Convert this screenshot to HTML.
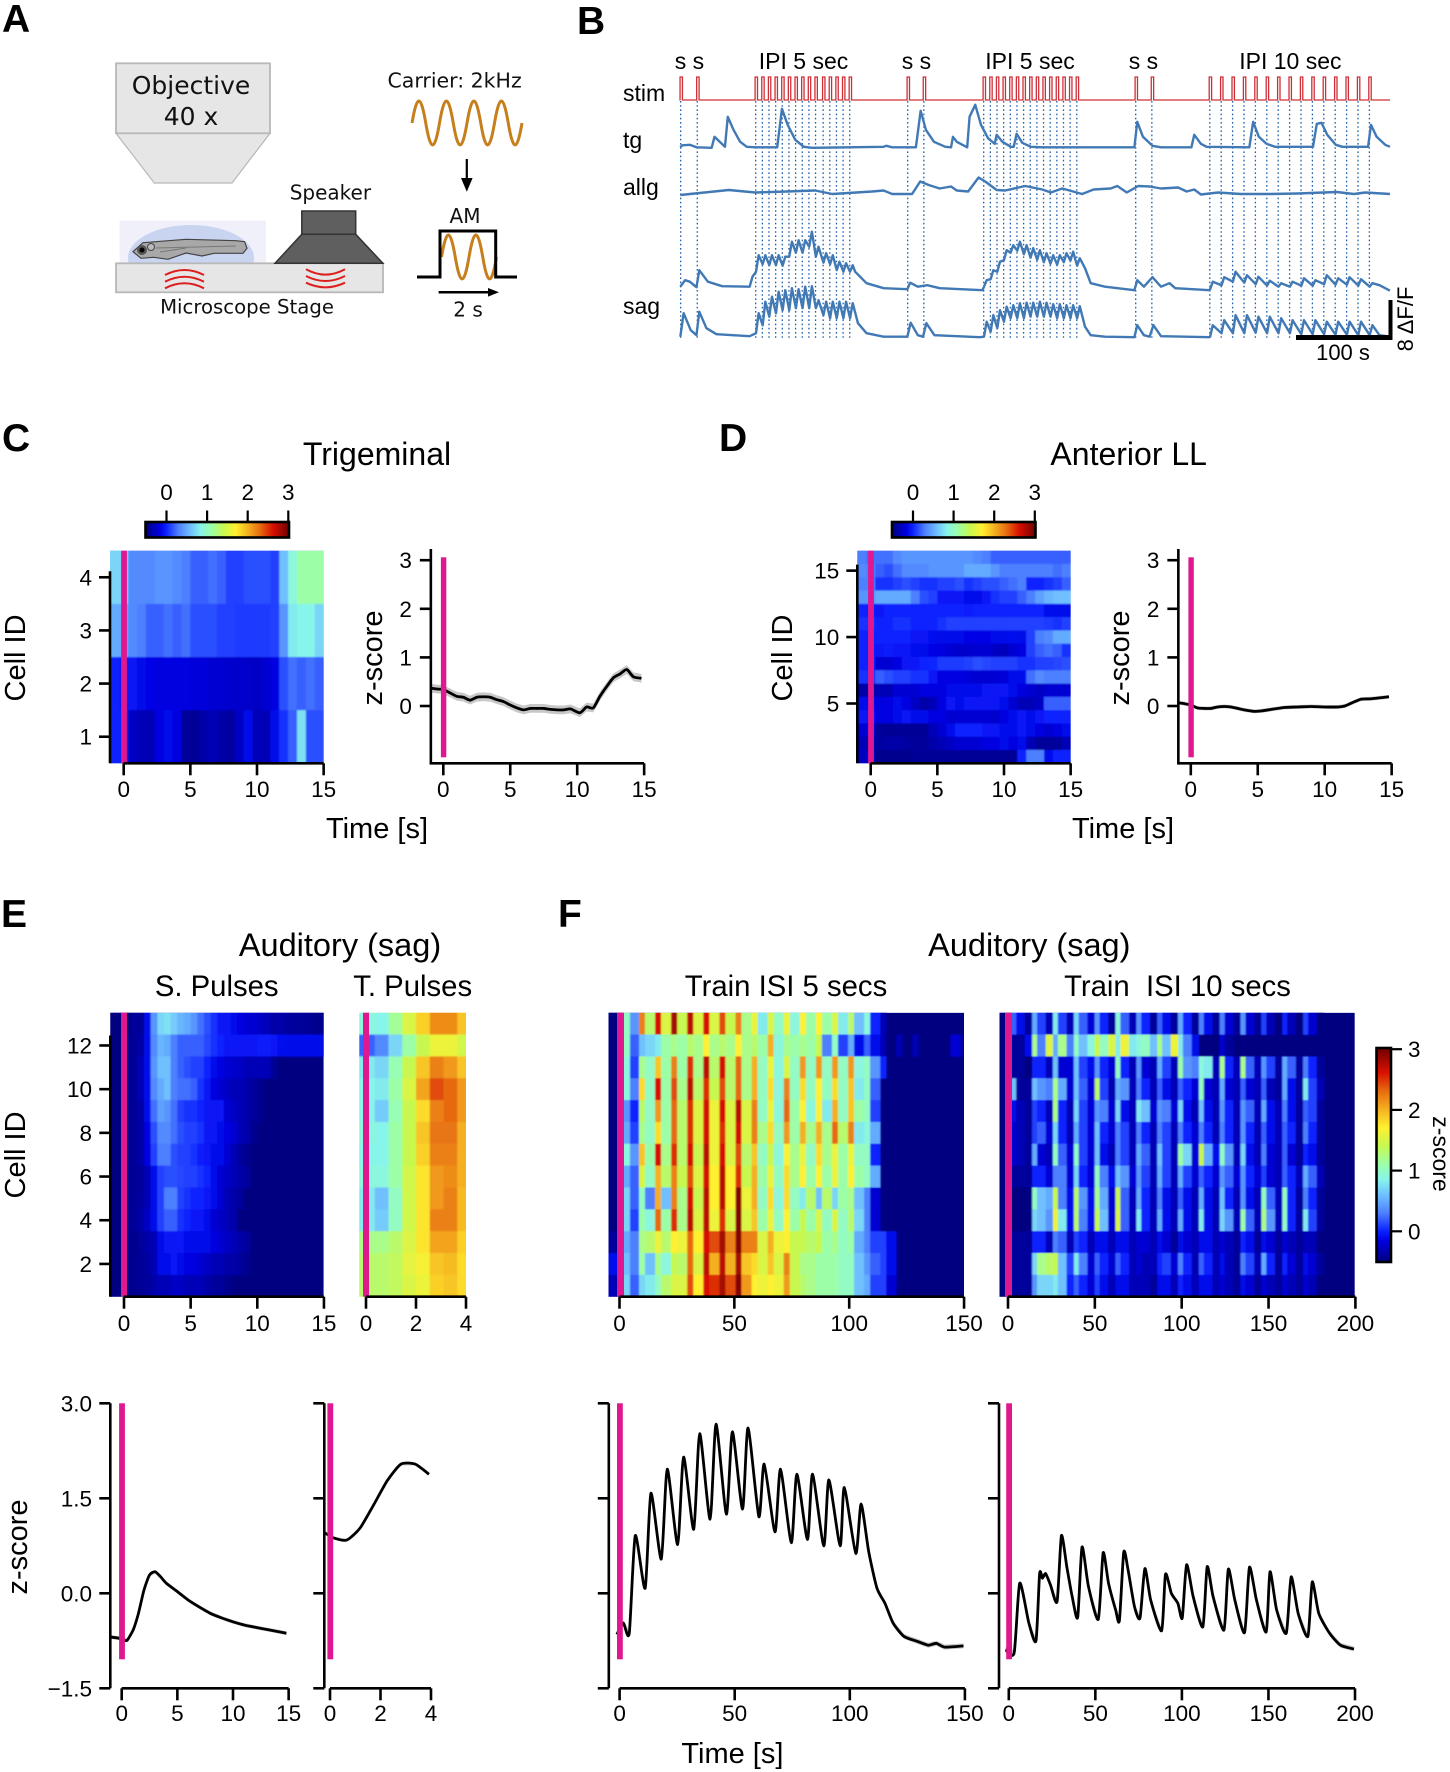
<!DOCTYPE html>
<html lang="en">
<head>
<meta charset="utf-8">
<title>Auditory and trigeminal responses figure</title>
<style>
html,body{margin:0;padding:0;background:#fff}
svg{display:block}
text{font-family:"Liberation Sans",Arial,sans-serif;fill:#000}
.dj{font-family:"DejaVu Sans",sans-serif;fill:#111}
.letter{font-size:39px;font-weight:bold}
.title{font-size:32px;text-anchor:middle}
.sub{font-size:29.3px;text-anchor:middle}
.lab{font-size:29px;text-anchor:middle}
.blab{font-size:23px}
</style>
</head>
<body>
<svg xmlns="http://www.w3.org/2000/svg" width="1450" height="1772" viewBox="0 0 1450 1772">
<defs>
<filter id="blurSoft" x="-5%" y="-5%" width="110%" height="110%"><feGaussianBlur stdDeviation="0.7"/></filter>
<filter id="blurX" x="-5%" y="-5%" width="110%" height="110%"><feGaussianBlur stdDeviation="0.9 0.5"/></filter>
<linearGradient id="cbH" x1="0" x2="1" y1="0" y2="0"></linearGradient>
<linearGradient id="cbV" x1="0" x2="0" y1="1" y2="0"></linearGradient>
<clipPath id="waterClip"><rect x="119" y="220" width="148" height="43"/></clipPath>
</defs>

<text class="letter" x="2" y="32">A</text>
<text class="letter" x="577" y="34">B</text>
<text class="letter" x="2" y="451">C</text>
<text class="letter" x="719" y="451">D</text>
<text class="letter" x="1" y="927">E</text>
<text class="letter" x="558" y="927">F</text>

<g>
  <path d="M116 133.3H270L232 183H154.3Z" fill="#e6e6e6" stroke="#b8b8b8" stroke-width="1.2"/>
  <rect x="116" y="63.3" width="154" height="70" fill="#e6e6e6" stroke="#b8b8b8" stroke-width="1.8"/>
  <text class="dj" x="191" y="94" font-size="25" text-anchor="middle">Objective</text>
  <text class="dj" x="191" y="125" font-size="25" text-anchor="middle">40 x</text>
  <rect x="119.6" y="220.7" width="146.4" height="43" fill="#f0f0fb"/>
  <ellipse cx="191" cy="258" rx="63" ry="33" fill="#c9d5f0" clip-path="url(#waterClip)"/>
  <path d="M133 251.7L143 242.7L186 239.3L236 240.7L244.6 241.7L247 248.3L243 253.3L214 253.3L202 256L186 253L168 259.3L153.6 257.3L141 258.3Z" fill="#a8a8a8" stroke="#444" stroke-width="1.2"/>
  <path d="M156 248L236 246M160 252L186 248" fill="none" stroke="#777" stroke-width="1"/>
  <circle cx="151" cy="247" r="3.5" fill="#bbb" stroke="#444"/>
  <circle cx="142" cy="250" r="5" fill="#555"/>
  <circle cx="142" cy="250" r="2.5" fill="#000"/>
  <rect x="116" y="263.3" width="267" height="29" fill="#e6e6e6" stroke="#b8b8b8" stroke-width="1.8"/>
  <text class="dj" x="247" y="313.5" font-size="19.7" text-anchor="middle">Microscope Stage</text>
  <rect x="301.8" y="211" width="53.9" height="23.3" fill="#5f5f5f" stroke="#333" stroke-width="1.5"/>
  <path d="M301.8 234.3H355.7L382.9 263.3H275Z" fill="#5f5f5f" stroke="#333" stroke-width="1.5"/>
  <text class="dj" x="330.4" y="199.5" font-size="20" text-anchor="middle">Speaker</text>
  <path d="M165 275Q184.5 265 204 275M165 281.7Q184.5 271.7 204 281.7M165 288.3Q184.5 278.3 204 288.3" fill="none" stroke="#dc1e1e" stroke-width="2"/>
  <path d="M306 269.3Q325.5 280 345 269.3M306 276Q325.5 286 345 276M306 282.7Q325.5 292 345 282.7" fill="none" stroke="#dc1e1e" stroke-width="2"/>
  <text class="dj" x="454.6" y="87.5" font-size="20.5" text-anchor="middle">Carrier: 2kHz</text>
  <path d="M412 123c5 -29.3 8.75 -29.3 13.75 0c5 29.3 8.75 29.3 13.75 0c5 -29.3 8.75 -29.3 13.75 0c5 29.3 8.75 29.3 13.75 0c5 -29.3 8.75 -29.3 13.75 0c5 29.3 8.75 29.3 13.75 0c5 -29.3 8.75 -29.3 13.75 0c5 29.3 8.75 29.3 13.75 0" fill="none" stroke="#c67f1c" stroke-width="3"/>
  <path d="M466.8 159V180" stroke="#000" stroke-width="2.2"/>
  <path d="M461 178H472.6L466.8 191.7Z" fill="#000"/>
  <text class="dj" x="465" y="223" font-size="20" text-anchor="middle">AM</text>
  <path d="M441.5 257c5 -29.3 8.75 -29.3 13.75 0c5 29.3 8.75 29.3 13.75 0c5 -29.3 8.75 -29.3 13.75 0c5 29.3 8.75 29.3 13.75 0" fill="none" stroke="#c67f1c" stroke-width="3"/>
  <path d="M417 277H440V231H495.7V277H517" fill="none" stroke="#000" stroke-width="3"/>
  <path d="M438.6 292.3H490" stroke="#000" stroke-width="2.5"/>
  <path d="M488 288L499 292.3L488 296.6Z" fill="#000"/>
  <text class="dj" x="468" y="316.5" font-size="20" text-anchor="middle">2 s</text>
</g>

<g>
  <g id="bDots"></g>
  <g id="bTraces"></g>
  <text x="689.4" y="69" font-size="23" text-anchor="middle">s s</text>
  <text x="803.5" y="69" font-size="23" text-anchor="middle">IPI 5 sec</text>
  <text x="916.4" y="69" font-size="23" text-anchor="middle">s s</text>
  <text x="1030" y="69" font-size="23" text-anchor="middle">IPI 5 sec</text>
  <text x="1143.4" y="69" font-size="23" text-anchor="middle">s s</text>
  <text x="1290.4" y="69" font-size="23" text-anchor="middle">IPI 10 sec</text>
  <text class="blab" x="623" y="101">stim</text>
  <text class="blab" x="623" y="148">tg</text>
  <text class="blab" x="623" y="195">allg</text>
  <text class="blab" x="623" y="314">sag</text>
  <rect x="1296" y="335" width="96" height="5" fill="#000"/>
  <rect x="1388.5" y="300" width="4" height="40" fill="#000"/>
  <text x="1343" y="360" font-size="22" text-anchor="middle">100 s</text>
  <text transform="rotate(-90 1413 319)" x="1413" y="319" font-size="22" text-anchor="middle">8 ΔF/F</text>
</g>

<text class="title" x="377" y="465">Trigeminal</text>
<text class="title" x="1128.7" y="465">Anterior LL</text>
<g id="cHeat"></g>
<g id="cLine"></g>
<g id="dHeat"></g>
<g id="dLine"></g>
<g id="colorbars"></g>
<text class="lab" transform="rotate(-90 25 658)" x="25" y="658">Cell ID</text>
<text class="lab" transform="rotate(-90 382 658)" x="382" y="658">z-score</text>
<text class="lab" x="377" y="838">Time [s]</text>
<text class="lab" transform="rotate(-90 792 658)" x="792" y="658">Cell ID</text>
<text class="lab" transform="rotate(-90 1129 658)" x="1129" y="658">z-score</text>
<text class="lab" x="1123" y="838">Time [s]</text>

<text class="title" x="340" y="956" style="font-size:32.5px">Auditory (sag)</text>
<text class="title" x="1029.3" y="956" style="font-size:32.5px">Auditory (sag)</text>
<text class="sub" x="216.7" y="996">S. Pulses</text>
<text class="sub" x="412.7" y="996">T. Pulses</text>
<text class="sub" x="786" y="996">Train ISI 5 secs</text>
<text class="sub" x="1177.5" y="996" xml:space="preserve">Train  ISI 10 secs</text>
<text class="lab" transform="rotate(-90 25 1155)" x="25" y="1155">Cell ID</text>
<text class="lab" transform="rotate(-90 27 1547)" x="27" y="1547">z-score</text>
<text class="lab" x="732.4" y="1763">Time [s]</text>
<g id="eHeat"></g>
<g id="tHeat"></g>
<g id="f5Heat"></g>
<g id="f10Heat"></g>
<g id="eLine"></g>
<g id="tLine"></g>
<g id="f5Line"></g>
<g id="f10Line"></g>
</svg>

<script>
// ---------- colour scale ----------
const colorStopValues=[-0.5,-0.15,0,0.3,0.6,0.85,1.1,1.4,1.7,2,2.3,2.6,3];
const colorStopHex=['#000080','#0000e0','#0a20ff','#4d80ff','#70c0ff','#88f5ea','#9cffa8','#c8f850','#fff030','#f5b020','#e66a10','#d81000','#700000'];

// ---------- panel B data ----------
const stimPulses=[1,18.5,80,87,94,101,108,115,122,129,136,143,151,158,165,172,179,240,257,320,327,334,341,348,355,362,369,376,383,390,397,404,411,418,480,497,558,570,582,594,606,618,630,642,654,666,678,690,702,714,726];
const train1Pulses=[80,87,94,101,108,115,122,129,136,143,151,158,165,172,179];
const train2Pulses=[320,327,334,341,348,355,362,369,376,383,390,397,404,411,418];
const train3Pulses=[558,570,582,594,606,618,630,642,654,666,678,690,702,714,726];
const tgTimes=[0,2,10,17,33,36,47,50,56,63,70,79,102,107,113,121,130,139,214,217,223,248,253,258.5,267,279,285,287,291,302,304.5,310.5,316.5,324,331,333,339,348,351,354,360,369,381,478,481,487,497,506,538,541,548,554,599,603,609,617,626,666,670,675,681,690,697,724,727,733,742,747];
const tgValues=[0,.4,.5,0,-.1,2.1,.1,6.1,3.5,1.1,.1,0,0,7.7,4.5,1.5,.1,-.1,.1,.3,0,0,7.3,3.5,1.1,.1,0,2.1,1.1,0,6.1,8.5,4.5,1.8,.7,2.5,1.1,.1,.1,2.7,.9,.1,0,0,5.1,2.1,.3,0,0,2.5,.7,.1,0,5.1,2.1,.7,.1,.1,4.7,4.9,2.5,.5,.1,.1,4.5,2.1,.5,.1];
const allgTimes=[0,51,79,112,142,160,202,214,223,244,252.5,261.5,273,285,291,303,314,321,333,342,363,381,390,402,423,435,453,460,470,482,494,506,524,533,541,548,566,590,620,650,691,709,721,747];
const allgValues=[0,1,.5,.7,.9,.2,.7,.9,.2,.2,2.7,2,1.3,1.7,.9,.7,3.5,2.7,1,.9,1.8,1.1,.5,1.3,.2,1.1,1.3,1.8,.5,1.8,1.7,1.3,1.5,.7,1.1,.1,.5,.2,.2,.3,.6,.2,.5,.2];
const sag1Times=[0,5,10,17,20,29,44,73,76,184,196,214,239,242,250,260,273,318,426,432,447,478,481,488,497,506,515,521,557,736,747];
const sag1Values=[0,1.3,1,-.1,3.3,1,.1,0,2,3,.7,-.3,-.5,.8,0,.3,-.3,-.7,3.7,.7,0,-.7,1.3,0,1.9,0,.7,-.3,-.7,.3,-.8];
const sag1Peaks=[6.3,6.3,6.3,6.3,6,9,9.3,9.3,11,8,6.7,6.3,5,4.7,4.3,1.3,3.3,5,7.3,8.3,9,8.3,7.7,7.3,6.7,6.3,6.3,6.7,7,5.7,1,1.9,3,2.3,2,1.2,.7,1,1.7,1.3,2.3,1.7,1.9,1.5,.7];
const sag1Troughs=[3,4.5,4.3,4.3,4.2,6,6.8,6.8,8,6,4.8,4.5,3.3,3,3,0,1.5,3,5.3,6.8,7.2,6.5,5.8,5.4,4.9,4.6,4.4,4.9,5.2,4.2,-.5,.3,1,.8,.5,.2,0,0,.2,.2,.5,.4,.4,.2,0];
const sag2Times=[0,.5,3.5,11,17,20,27.5,38,73,187,196,214,239,242.5,250,255.5,259,267.5,315,426,432,447,478,481,488,494,498,506,557,736,747];
const sag2Values=[0,.6,4.7,1.3,.3,5,1.7,.5,.1,2.7,.7,0,0,2.8,.3,0,2.7,.3,-.1,2,.3,0,-.1,2.3,.3,0,2.3,.1,-.1,.3,0];
const sag2Peaks=[4.7,7,8,9,9.3,9.7,9.5,10,10.1,7.3,7,7,7,7,6.7,3,4.3,5.3,6,6.3,6.7,6.8,6.8,7,6.8,6.5,6.5,6.3,6.3,6.1,2.3,3.3,4.3,4.3,4,4,3.7,3.3,3.3,3.3,3,3,3,3,2.3];
const sag2Troughs=[.7,2.3,4,4.7,5.3,5.3,5.7,5.7,5.7,5.7,4.3,3.7,3.7,3.7,3.7,0,1,1.7,3,3.7,3.7,3.7,4,4,4,4,3.7,3.7,3.7,3.7,0,.7,.7,.7,.8,.7,.7,.7,.5,.5,.5,.4,.4,.3,.3];

// ---------- panel C / D data ----------
const cHeatRows=[
[.7,.7,.35,.35,.35,.4,.4,.35,.3,.2,.2,.25,.2,.1,.1,.15,.15,.15,.1,.6,.9,1.1,1.1,1.1],
[.5,.5,.35,.3,.2,.2,.25,.2,.25,.15,.15,.15,.1,.1,.08,.08,.08,.08,.1,.4,.8,.85,.85,.7],
[0,-.05,-.05,-.1,-.12,-.15,-.15,-.15,-.15,-.17,-.17,-.2,-.2,-.22,-.22,-.23,-.25,-.2,-.15,.15,.25,.2,.25,.2],
[0,0,-.25,-.3,-.3,-.15,-.1,-.15,-.4,-.42,-.35,-.3,-.35,-.38,-.25,-.1,-.3,-.3,-.1,.05,.2,.75,.15,.15]];
const dHeatRows=[
[.3,.25,.25,.25,.35,.4,.4,.4,.4,.4,.4,.4,.4,.35,.3,.2,.2,.2,.2,.2,.2,.2,.2,.2],
[.35,.3,.2,.15,.25,.35,.35,.35,.4,.4,.4,.4,.5,.5,.5,.4,.3,.3,.3,.3,.3,.3,.25,.3],
[.3,.3,.05,.05,.1,.15,.1,.05,.05,.1,.1,.15,.05,.1,.15,.15,.2,.25,.3,0,0,.05,.1,.2],
[.4,.4,.5,.5,.5,.5,.3,.15,.1,-.05,-.05,-.05,-.1,-.1,-.05,.05,.1,.1,.2,.3,.45,.55,.6,.6],
[0,0,-.05,0,0,0,0,0,0,0,0,0,-.02,0,0,0,0,0,0,0,0,-.1,-.1,-.1],
[.05,.05,0,0,.05,.05,0,0,0,.05,.1,.1,.1,.1,.1,.1,.1,.1,.1,.1,.1,.08,.05,.1],
[0,0,0,0,0,0,-.05,-.05,-.08,-.1,-.1,-.1,-.12,-.12,-.12,-.1,-.1,-.08,-.1,.1,.3,.35,.5,.5],
[0,0,-.05,-.02,-.05,-.05,-.08,-.1,-.12,-.15,-.2,-.22,-.22,-.2,-.2,-.25,-.28,-.2,-.15,.1,.2,.25,.2,.05],
[0,0,-.2,-.2,-.15,-.05,-.05,0,.02,.08,.08,.08,.1,.15,.12,.1,.1,.1,.05,.05,.1,.1,.12,.15],
[.05,.05,.2,.15,.1,.1,.05,.05,-.05,-.15,-.15,-.15,-.18,-.2,-.2,-.2,-.18,-.1,-.1,.25,.35,.3,.3,.3],
[-.35,-.35,-.3,-.3,-.2,-.2,-.2,-.15,-.15,-.15,-.1,-.1,-.1,-.1,-.05,-.05,-.05,-.1,-.15,-.2,-.25,-.2,-.2,-.2],
[-.1,-.1,-.15,-.15,-.1,-.15,-.25,-.35,-.3,-.15,-.05,-.1,-.05,-.05,-.05,-.05,-.1,-.2,-.3,-.3,-.25,.2,.2,.2],
[-.05,-.05,-.15,-.15,-.1,-.05,-.1,-.1,-.15,-.15,-.2,-.2,-.2,-.2,-.2,-.22,-.15,-.1,-.05,-.1,-.05,0,0,0],
[-.2,-.2,-.4,-.42,-.42,-.42,-.42,-.42,-.3,-.2,-.1,0,0,0,-.05,-.05,-.1,-.1,-.05,-.1,-.15,-.2,-.15,-.1],
[-.3,-.3,-.38,-.35,-.35,-.38,-.4,-.4,-.35,-.3,-.25,-.2,-.2,-.2,-.15,-.15,-.1,-.15,-.1,-.3,-.4,-.4,-.4,-.3],
[-.25,-.25,-.45,-.45,-.45,-.45,-.42,-.42,-.42,-.42,-.42,-.42,-.42,-.42,-.42,-.42,-.42,-.42,0,.3,.3,-.1,0,0]];
const cLineTimes=[-1,-.5,0,.5,1,1.5,2,2.5,3,3.5,4,4.5,5,5.5,6,6.5,7,7.5,8,8.5,9,9.5,10.2,10.7,11.2,11.7,12.2,12.7,13.2,13.7,14.2,14.8];
const cLineValues=[.37,.35,.34,.27,.2,.18,.12,.18,.19,.18,.13,.09,.02,-.04,-.08,-.05,-.05,-.05,-.07,-.08,-.08,-.06,-.14,-.02,-.04,.2,.4,.58,.66,.75,.6,.57];
const dLineTimes=[-1,-.5,0,.5,1,1.5,2,2.5,3,3.5,4,4.7,5.3,6,7,8,9,10,11,11.5,12,12.7,13.5,14.8];
const dLineValues=[.07,.05,.02,-.04,-.05,-.05,-.02,-.01,-.02,-.05,-.08,-.11,-.1,-.07,-.03,-.02,-.01,-.02,-.02,0,.06,.14,.15,.19];

// ---------- panel E data ----------
const eHeatRows=[
[-.5,-.5,-.5,-.4,-.4,-.1,.4,.7,.75,.65,.55,.5,.4,.25,.15,.05,-.05,-.05,-.1,-.15,-.2,-.2,-.25,-.3,-.35,-.35,-.38,-.4,-.4,-.42,-.45,-.45],
[-.5,-.5,-.45,-.42,-.35,-.1,.35,.55,.5,.3,.2,.2,.2,.2,.12,.05,0,-.05,-.05,-.05,-.05,-.05,-.03,-.03,-.05,-.08,-.1,-.1,-.1,-.1,-.1,-.1],
[-.5,-.5,-.45,-.42,-.3,-.1,.4,.6,.6,.3,.2,.15,.1,.1,0,-.1,-.15,-.2,-.22,-.25,-.3,-.3,-.3,-.3,-.42,-.5],
[-.5,-.5,-.45,-.42,-.3,-.1,.35,.5,.6,.3,.25,.25,.2,.05,-.05,-.15,-.2,-.25,-.3,-.3,-.35,-.4,-.45],
[-.5,-.5,-.45,-.42,-.35,-.1,.25,.45,.4,.25,.1,.05,.05,0,-.05,-.05,-.05,-.2,-.25,-.3,-.35,-.4,-.45],
[-.5,-.5,-.45,-.42,-.35,-.15,.15,.35,.35,.25,.15,.1,.1,.05,-.05,-.05,-.1,-.15,-.2,-.3,-.35,-.45],
[-.5,-.5,-.45,-.42,-.35,-.15,.1,.3,.3,.15,.1,.1,.05,-.02,-.05,-.1,-.1,-.2,-.3,-.4,-.45],
[-.5,-.5,-.45,-.42,-.4,-.3,-.1,.1,.15,.15,.12,.1,.1,.05,0,-.1,-.2,-.25,-.3,-.35,-.4],
[-.5,-.5,-.45,-.42,-.38,-.3,-.1,.1,.3,.3,.1,.05,0,0,-.05,-.1,-.2,-.3,-.35,-.4],
[-.5,-.5,-.45,-.42,-.35,-.25,-.1,.1,.2,.2,.05,0,-.05,-.05,-.1,-.2,-.25,-.3,-.35],
[-.5,-.5,-.45,-.45,-.4,-.35,-.3,-.1,-.05,-.05,-.05,-.1,-.1,-.1,-.1,-.15,-.2,-.25,-.3,-.35,-.4],
[-.5,-.5,-.45,-.45,-.42,-.38,-.3,-.1,-.1,-.05,-.1,-.15,-.15,-.2,-.25,-.3,-.3,-.35,-.35,-.4,-.45],
[-.5,-.5,-.45,-.45,-.42,-.4,-.35,-.3,-.3,-.25,-.25,-.3,-.3,-.3,-.35,-.4,-.4,-.45]];
const tHeatRows=[
[.9,.85,1.15,1.5,1.85,2.15,2.15,1.9],
[.2,.35,.7,1.1,1.4,1.6,1.6,1.45],
[.8,.7,1.05,1.4,1.9,2.2,2.1,1.9],
[.85,.8,1.1,1.5,2.05,2.4,2.3,2.1],
[.85,.65,1.05,1.4,1.8,2.2,2.3,2.1],
[.9,.85,1.1,1.4,1.9,2.25,2.25,2],
[.85,.85,1.1,1.4,1.85,2.2,2.2,2],
[.9,.9,1.1,1.45,1.75,2.1,2.15,2],
[.8,.6,1,1.45,1.75,2.1,2.2,1.95],
[.8,.65,1,1.45,1.75,2.2,2.2,1.95],
[1.2,1.2,1.3,1.5,1.75,2.05,2.05,1.85],
[1.3,1.3,1.35,1.55,1.65,1.9,1.95,1.8],
[1.3,1.3,1.35,1.5,1.6,1.85,1.9,1.8]];
const eLineTimes=[-1,-.24,.2,.5,1.05,1.5,2,2.5,3,3.5,4,4.9,6,7,8,9,10,11,12.1,13,14.8];
const eLineValues=[-.69,-.71,-.74,-.74,-.57,-.32,.05,.29,.34,.26,.16,.04,-.11,-.22,-.32,-.39,-.45,-.5,-.54,-.57,-.63];
const tLineTimes=[-.22,.1,.66,1.19,1.72,2.27,2.81,3.37,3.92];
const tLineValues=[.96,.88,.84,1.03,1.39,1.78,2.04,2.04,1.88];

// ---------- panel F data ----------
const f5HeatRows=[
[-.5,-.5,1,.4,2.2,1.3,2.6,1.5,2.8,1.4,2.7,1.5,2.6,1.5,2.4,1.4,2.2,1.2,1.6,.8,1.5,1,1.6,.9,1.7,1.1,1.7,1.1,1.5,.8,1.3,.6,.9,0,-.3],
[-.5,-.5,1,.2,.6,.7,.8,1.1,1.2,1.1,1.3,1.2,1.7,1.2,1.3,1.2,1.7,1.2,1.3,1.1,2,.9,1.2,1.1,1.2,1.1,1.4,.3,1,.1,.5,-.1,.2,-.1,-.3,-.5,-.3,-.5,-.3,-.5,-.5,-.5,-.5,-.2,-.4],
[-.5,-.5,.9,.1,1.2,1,1.9,1.1,2.2,1.1,2.5,1.2,2.7,1.3,2.6,1.3,2.3,1.2,2,1,1.6,.9,1.5,1,2.1,1,2.1,1,2.1,1,2.1,.9,1,.4,0],
[-.5,-.5,.9,.3,1.8,1,2.6,1.1,2.4,1.2,2.7,1.3,2.5,1.4,2.4,1.3,2.3,1.2,2,1,1.8,.9,2.2,1,1.8,1,1.7,1,1.8,1,1.9,.8,1,.2],
[-.5,-.5,.4,0,1.3,1,2.1,1.1,2.3,1.3,2.5,1.5,2.6,1.6,2.6,1.5,2.7,1.5,2.2,1,1.6,.9,2.3,1.1,1.7,.9,1.7,.8,2,1,1.9,1.1,1,.1],
[-.5,-.5,.5,.1,1.2,1,1.8,1.1,2.3,1.3,2.5,1.5,2.6,1.6,2.5,1.5,2.6,1.5,2.2,1.2,1.8,1,2.1,1.1,2,1.2,2,1.2,2.3,1.3,2.2,.8,.9,.5],
[-.5,-.5,.9,.4,1.9,1.1,2.6,1.2,2.5,1.3,2.6,1.4,2.7,1.6,2.6,1.5,2.4,1.3,1.9,1,1.4,.9,1.7,1.2,1.6,1,1.8,1.2,1.6,1.1,1.6,1,1,0],
[-.5,-.5,.5,.2,1.5,1,2,1.3,2.2,1.4,2.4,1.5,2.6,1.7,2.7,1.7,2.5,1.4,2,1.1,1.6,1,1.8,1.2,1.7,1.1,1.7,1.1,1.6,1.1,1.7,1.1,1,.5],
[-.5,-.5,.7,.2,1,.3,2,.6,2.2,1.2,2.6,1.4,2.7,1.7,2.7,1.7,2.9,1.6,2,1,1.8,.9,1.8,1,.8,1.3,.6,1.3,.7,1.1,1.2,.6,.3,-.2],
[-.5,-.5,.7,.1,1.1,.9,2.3,1.1,2.5,1.2,2.7,1.5,2.7,1.6,2.5,1.5,2.9,1.5,1.9,1.1,1.6,1,1.7,1.1,1.4,1.1,1.5,1,1.5,1,1.3,.7,.3,-.2],
[-.4,-.4,.5,.3,1.2,1.3,1.6,1.3,1.7,1.6,2.3,1.7,2.6,2.4,2.8,2.2,2.9,2.2,2.2,1.5,2,1.6,1.7,1.4,1.4,1.3,1.4,1.1,1.2,1,1.1,.5,.3,.1,.1,-.1],
[-.1,-.1,.6,.3,1.1,.6,1.2,.9,1.4,1.3,2.3,1.5,2.7,2,2.7,2,2.8,1.9,1.8,1.5,1.9,1.5,2.2,1.4,1.2,1.2,1.1,1.1,1.1,1,1,.6,.4,.2,.1,-.1],
[-.3,-.3,.7,.2,.7,.8,1,1.3,1.5,1.5,2.4,1.7,2.6,2.5,2.8,2.4,2.9,2.1,1.7,1.6,1.7,1.6,2.1,1.4,1.3,1.2,1.1,1.1,1.1,1,1,.6,.5,.1,.1,-.2]];
const f10HeatRows=[
[-.5,.2,-.1,-.4,.5,.1,-.3,.8,.1,-.3,.7,.2,-.2,.4,0,-.4,.9,.2,-.3,.4,0,-.4,.2,-.1,-.4,.5,0,-.4,.3,-.1,-.4,.3,-.2,-.4,.4,-.2,-.4,.1,-.3,-.5,0,-.3,-.5,.1,-.2,-.5],
[-.5,-.4,-.4,-.1,1.2,.3,1.5,.5,1.2,.3,1,.6,.9,1.4,1,1.5,.8,1.6,.8,.9,1,.6,1.2,.6,1.6,.8,.3,-.1,-.5,-.5,-.5,-.2,-.4],
[-.5,-.4,-.4,-.5,0,0,-.3,.6,-.2,-.2,.6,.1,-.1,.4,0,-.2,1,0,-.3,.4,-.2,-.3,.5,.1,-.3,1.1,.4,.3,.9,.8,-.3,1.2,0,-.3,1.2,.2,-.3,.4,.1,-.4,.5,.2,-.4,.3,0,-.4],
[-.5,.6,-.4,-.4,.6,.4,.3,1.2,.5,-.2,.6,.2,-.2,1.3,.1,-.3,.5,.4,-.3,.3,0,-.3,.2,-.1,-.3,.2,0,-.2,1,-.2,-.3,.5,-.2,-.3,.2,-.2,-.3,.2,-.3,-.4,.5,-.1,-.4,.8,.1,-.3],
[-.5,-.1,-.3,-.4,.1,0,-.3,1.2,0,-.3,.7,.1,-.2,.4,.3,-.2,.7,-.1,-.3,.8,.6,-.2,.4,.3,-.2,.7,-.1,-.3,.6,-.1,-.3,.4,0,-.3,.4,.2,-.3,.5,-.1,-.3,.3,-.1,-.4,.2,.1,-.4],
[-.5,-.2,-.3,-.4,.1,.2,-.2,.7,0,-.3,.5,.1,-.2,.6,0,-.2,.3,.1,-.3,.3,0,-.3,.3,.1,-.3,.3,0,-.2,.3,0,-.3,.3,0,-.3,.4,0,-.3,.2,-.1,-.3,.2,0,-.4,.3,0,-.4],
[-.5,-.2,-.3,-.4,.5,-.2,-.3,1,.2,-.2,1,.1,-.2,.6,-.1,-.3,.3,.1,-.3,.5,.2,-.3,.6,.1,-.3,1.1,.7,-.2,1.4,.5,-.1,1,.4,-.3,.7,-.1,-.3,.3,-.2,-.3,.2,-.2,-.4,0,-.1,-.4],
[-.5,-.4,-.4,-.4,0,0,-.2,.3,.3,-.2,.7,0,-.2,1,.3,-.1,.6,.4,-.2,.4,.1,-.3,.5,.1,-.3,.5,.1,-.2,.2,0,-.2,.4,.2,-.2,.4,0,-.2,.1,-.2,-.3,.2,0,-.3,.5,.2,-.3],
[-.5,-.5,-.5,-.5,1,.6,.5,1.4,.3,-.1,1.3,.4,-.1,1.2,.5,-.2,1.4,.2,-.3,.5,0,-.3,.3,-.1,-.3,.2,-.1,-.3,.5,-.1,-.3,.6,0,-.3,.4,-.1,-.3,1,.2,-.3,1,0,-.4,.3,0,-.4],
[-.5,-.5,-.5,-.5,.7,.6,.4,1.6,.8,-.1,1.3,.3,-.1,1.4,.6,-.2,1.5,.2,-.3,.8,0,-.3,.5,-.1,-.3,.5,-.1,-.3,.8,-.1,-.3,.7,.4,-.3,1.1,.2,-.3,1.2,.4,-.3,1,0,-.4,.8,.1,-.4],
[-.5,-.4,-.4,-.4,0,0,-.3,.3,.2,-.3,.1,0,-.3,-.1,-.1,-.3,-.1,-.1,-.3,-.2,-.2,-.3,-.1,-.2,-.4,-.1,-.2,-.3,-.1,-.1,-.3,-.2,-.3,-.4,0,-.1,-.4,-.1,-.2,-.4,-.2,-.3,-.4,-.3,-.3,-.5],
[-.5,-.4,-.4,-.4,.7,1.2,1.3,1.4,.6,.1,.8,.3,-.2,.2,0,-.2,.2,0,-.3,-.2,-.3,-.3,0,.1,-.2,.3,0,-.3,.2,0,-.3,-.1,-.3,-.4,.3,.1,-.3,.5,0,-.4,0,-.2,-.4,-.1,-.2,-.4],
[-.5,-.4,-.4,-.4,.4,.7,.7,.8,.6,0,.2,0,-.2,.1,-.1,-.3,-.1,-.1,-.3,-.3,-.3,-.4,-.1,-.1,-.3,0,-.1,-.3,-.1,-.1,-.3,-.2,-.3,-.4,-.1,-.2,-.4,-.2,-.3,-.4,-.2,-.3,-.4,-.2,-.3,-.5]];
const f5LineTimes=[-1.2,1.6,4.2,6.8,11.1,13.6,18.1,20.7,25.2,27.8,32.2,34.8,39.3,41.9,46.4,49,53.4,55.8,60.5,62.8,67.5,69.9,74.6,77,81.6,83.8,88.7,90.9,95.8,97.6,102.6,104.9,108.2,111.8,115.3,118.8,123.5,129.4,134.1,137.6,141.2,149.4];
const f5LineValues=[-.65,-.47,-.63,.91,.08,1.58,.54,1.96,.77,2.15,1.01,2.52,1.17,2.67,1.25,2.55,1.33,2.61,1.21,2.04,.97,1.96,.8,1.88,.85,1.88,.75,1.79,.75,1.67,.63,1.41,.66,.08,-.16,-.47,-.68,-.76,-.82,-.79,-.85,-.83];
const f10LineTimes=[-1.9,3.1,6.3,11.6,15.7,17.8,19.4,21.3,24.1,27.9,30.4,33.5,36.6,39.8,42.3,46,51.7,54.5,57.6,61.7,63.9,66.4,68.9,72.6,75.8,78.6,82,88.3,90.5,93.9,97.7,100.2,102.7,106.5,112.1,114.6,118,124.3,126.8,130.6,136.2,139,143.1,148.7,150.9,154.7,160.3,163.1,167.2,172.8,175.3,179.1,185.3,191.6,199.4];
const f10LineValues=[-.89,-.94,.16,-.47,-.75,.31,.24,.31,.13,-.13,.91,.42,-.05,-.38,.73,.11,-.41,.64,.16,-.26,-.43,.65,.37,-.21,-.39,.39,-.11,-.59,.3,0,-.16,-.39,.45,-.05,-.53,.42,-.05,-.58,.38,-.11,-.62,.41,-.11,-.61,.34,-.26,-.63,.26,-.32,-.68,.18,-.32,-.63,-.82,-.88];

// ---------- tick labels ----------
const time15Ticks=[0,5,10,15];
const zTicksCD=[0,1,2,3];
const zTicksEF=[-1.5,0,1.5,3];
const zTickLabelsE=['−1.5','0.0','1.5','3.0'];
const cellTicksC=[1,2,3,4];
const cellTicksD=[5,10,15];
const cellTicksE=[2,4,6,8,10,12];
const trainPulseTicks=[0,2,4];
const time150Ticks=[0,50,100,150];
const time200Ticks=[0,50,100,150,200];
const colorbarTicks=[0,1,2,3];

// ---------- helpers ----------
const SVGNS='http://www.w3.org/2000/svg';
const PINK='#e0188f';
function make(parent,tag,attrs){
  const n=document.createElementNS(SVGNS,tag);
  for(const k in attrs)n.setAttribute(k,attrs[k]);
  parent.appendChild(n);
  return n;
}
function hex(h){return [parseInt(h.substr(1,2),16),parseInt(h.substr(3,2),16),parseInt(h.substr(5,2),16)];}
function colorOf(v){
  const s=colorStopValues;
  if(v<=s[0])return colorStopHex[0];
  for(let i=1;i<s.length;i++){
    if(v<=s[i]){
      const f=(v-s[i-1])/(s[i]-s[i-1]),a=hex(colorStopHex[i-1]),b=hex(colorStopHex[i]);
      return 'rgb('+a.map((c,j)=>Math.round(c+(b[j]-c)*f)).join(',')+')';
    }
  }
  return colorStopHex[s.length-1];
}
function tickLabel(g,name,txt,x,y,anchor){
  const t=make(g,'text',{x:x,y:y,'font-size':22.5,'text-anchor':anchor});
  t.textContent=txt;
  
  
}
function axisLine(g,name,d,w){
  const p=make(g,'path',{d:d,fill:'none',stroke:'#000','stroke-width':w||2.6});
  
  
}
function xAxis(g,name,ticks,xf,yAxisPos,xStart,labelY){
  const xs=ticks.map(xf);
  axisLine(g,name+'-x-axis','M'+xStart+' '+yAxisPos+'H'+xs[xs.length-1]);
  ticks.forEach((v,i)=>{
    axisLine(g,name+'-x-tick','M'+xs[i]+' '+yAxisPos+'v12');
    tickLabel(g,name+'-x',String(v),xs[i],labelY,'middle');
  });
}
function yAxis(g,name,ticks,labels,yf,xAxisPos,yTop,yBottom,labelRight){
  axisLine(g,name+'-y-axis','M'+xAxisPos+' '+yTop+'V'+yBottom);
  ticks.forEach((v,i)=>{
    axisLine(g,name+'-y-tick','M'+(xAxisPos-11)+' '+yf(v)+'H'+xAxisPos);
    if(labels)tickLabel(g,name+'-y',labels[i],labelRight,yf(v)+8,'end');
  });
}
function pinkBar(g,name,x0,x1,y0,y1){
  const r=make(g,'rect',{x:x0,y:y0,width:x1-x0,height:y1-y0,fill:PINK});
  
  
}
let clipCounter=0;
// edge(c) gives the start time of column c
function heatmap(g,name,rows,x0,x1,y0,y1,edge,xf,bg,filterId){
  clipCounter++;
  const defs=make(g,'clipPath',{id:'hc'+clipCounter});
  make(defs,'rect',{x:x0,y:y0,width:x1-x0,height:y1-y0});
  const outer=make(g,'g',{'clip-path':'url(#hc'+clipCounter+')'});
  
  
  const back=make(outer,'rect',{x:x0,y:y0,width:x1-x0,height:y1-y0,fill:bg});
  
  
  const inner=make(outer,'g',{filter:'url(#'+filterId+')'});
  const rowH=(y1-y0)/rows.length;
  rows.forEach((row,r)=>{
    row.forEach((v,c)=>{
      let a=xf(edge(c)),b=xf(edge(c+1));
      if(c===0)a-=5;
      if(c===row.length-1&&b>=x1-1)b+=5;
      let yy=y0+r*rowH,hh=rowH+0.4;
      if(r===0){yy-=5;hh+=5;}
      if(r===rows.length-1)hh+=5;
      const cell=make(inner,'rect',{x:a,y:yy,width:b-a+0.4,height:hh,fill:colorOf(v)});
      
      
    });
  });
}
function linePath(xs,ys){return xs.map((x,i)=>(i?'L':'M')+x.toFixed(2)+' '+ys[i].toFixed(2)).join('');}
function smoothPath(xs,ys){
  let d='M'+xs[0].toFixed(2)+' '+ys[0].toFixed(2);
  for(let i=0;i<xs.length-1;i++){
    const i0=Math.max(i-1,0),i3=Math.min(i+2,xs.length-1),k=0.11;
    d+='C'+(xs[i]+(xs[i+1]-xs[i0])*k).toFixed(2)+' '+(ys[i]+(ys[i+1]-ys[i0])*k).toFixed(2)+' '+
      (xs[i+1]-(xs[i3]-xs[i])*k).toFixed(2)+' '+(ys[i+1]-(ys[i3]-ys[i])*k).toFixed(2)+' '+xs[i+1].toFixed(2)+' '+ys[i+1].toFixed(2);
  }
  return d;
}
function zLine(g,name,times,values,xf,yf,sem,smooth){
  const xs=times.map(xf),ys=values.map(yf);
  const upper=values.map(v=>yf(v+sem)),lower=values.map(v=>yf(v-sem));
  const bandD=linePath(xs,upper)+xs.slice().reverse().map((x,i)=>'L'+x.toFixed(2)+' '+lower[lower.length-1-i].toFixed(2)).join('')+'Z';
  const band=make(g,'path',{d:bandD,fill:'#c8c8c8'});
  
  
  const line=make(g,'path',{d:smooth?smoothPath(xs,ys):linePath(xs,ys),fill:'none',stroke:'#000','stroke-width':2.8,'stroke-linejoin':'round'});
  
  
}

// ---------- panel B ----------
(function(){
  const xB=t=>680.3+t*0.95;
  const dots=document.getElementById('bDots'),tr=document.getElementById('bTraces');
  stimPulses.forEach(t=>{
    const l=make(dots,'line',{x1:xB(t)-0.6,x2:xB(t)-0.6,y1:101,y2:338,stroke:'#1f5fa8','stroke-width':1.3,'stroke-dasharray':'1.6 2.6'});
    
    
  });
  function trace(name,ts,vs,base){
    const order=ts.map((t,i)=>[t,vs[i]]).sort((a,b)=>a[0]-b[0]);
    const p=make(tr,'path',{d:linePath(order.map(o=>xB(o[0])),order.map(o=>base-o[1]*5)),fill:'none',stroke:'#4179b5','stroke-width':2.4,'stroke-linejoin':'round'});
    
    
  }
  trace('tg',tgTimes,tgValues,147.3);
  trace('allg',allgTimes,allgValues,195);
  const trains=train1Pulses.concat(train2Pulses,train3Pulses);
  const addTrain=(times,values,peaks,troughs)=>{
    const T=times.slice(),V=values.slice();
    trains.forEach((t,i)=>{T.push(t-0.3);V.push(troughs[i]);T.push(t+2.5);V.push(peaks[i]);});
    return [T,V];
  };
  const s1=addTrain(sag1Times,sag1Values,sag1Peaks,sag1Troughs);
  trace('sag-upper',s1[0],s1[1],286.7);
  const s2=addTrain(sag2Times,sag2Values,sag2Peaks,sag2Troughs);
  trace('sag-lower',s2[0],s2[1],336.7);
  let d='M'+xB(0)+' 100';
  stimPulses.forEach(t=>{d+='H'+(xB(t)-1.2)+'V77H'+(xB(t)+1.2)+'V100';});
  d+='H1390';
  const stim=make(tr,'path',{d:d,fill:'none',stroke:'#cf3038','stroke-width':1.3});
  
  
})();

// ---------- colourbars ----------
(function(){
  ['cbH','cbV'].forEach(id=>{
    const gr=document.getElementById(id);
    colorStopValues.forEach((v,i)=>{
      make(gr,'stop',{offset:(v+0.5)/3.5,'stop-color':colorStopHex[i]});
    });
  });
  const g=document.getElementById('colorbars');
  [[145.5,166.5,40.6,'c'],[892,913,40.6,'d']].forEach(b=>{
    const r=make(g,'rect',{x:b[0],y:522,width:143.5,height:15.5,fill:'url(#cbH)',stroke:'#000','stroke-width':2.6});
    
    
    colorbarTicks.forEach(v=>{
      const x=b[1]+v*b[2];
      axisLine(g,b[3]+'-colorbar-tick','M'+x+' 522V510.5',2.2);
      tickLabel(g,b[3]+'-colorbar',String(v),x,500,'middle');
    });
  });
  const yc=v=>1231.3-v*60.7;
  const r=make(g,'rect',{x:1376.5,y:1048,width:14.5,height:214,fill:'url(#cbV)',stroke:'#000','stroke-width':2.6});
  
  
  colorbarTicks.forEach(v=>{
    axisLine(g,'f-colorbar-tick','M1391 '+yc(v)+'H1402',2.2);
    tickLabel(g,'f-colorbar',String(v),1408,yc(v)+8,'start');
  });
  const zl=make(g,'text',{x:1433,y:1154,'font-size':23,'text-anchor':'middle',transform:'rotate(90 1433 1154)'});
  zl.textContent='z-score';
  
  
})();

// ---------- panels C / D ----------
(function(){
  function heatCD(id,name,rows,left,xZero,ticks){
    const g=document.getElementById(id);
    const xf=t=>xZero+t*13.33;
    heatmap(g,name,rows,left,xf(15),550.7,763.3,c=>-1+c*16/24,xf,colorOf(0),'blurSoft');
    pinkBar(g,name,xZero-2.6,xZero+3.2,550.7,763.3);
    xAxis(g,name,time15Ticks,xf,763.3,xZero,797);
    const rowH=(763.3-550.7)/rows.length;
    const yf=v=>763.3-(v-0.5)*rowH;
    yAxis(g,name,ticks,ticks.map(String),yf,left,yf(ticks[ticks.length-1])-6,763.3,left-18);
  }
  heatCD('cHeat','c-heatmap',cHeatRows,110,123.7,cellTicksC);
  heatCD('dHeat','d-heatmap',dHeatRows,857.3,870.7,cellTicksD);
  function lineCD(id,name,times,values,xZero,sem){
    const g=document.getElementById(id);
    const xf=t=>xZero+t*13.39,yf=v=>706-v*48.6;
    zLine(g,name,times,values,xf,yf,sem,true);
    pinkBar(g,name,xZero-2.4,xZero+3,557.3,757.3);
    xAxis(g,name,time15Ticks,xf,763.3,xf(-1),797);
    yAxis(g,name,zTicksCD,zTicksCD.map(String),yf,xf(-.93),549,764.5,xf(-1)-18);
  }
  lineCD('cLine','c-zscore',cLineTimes,cLineValues,443.3,.09);
  lineCD('dLine','d-zscore',dLineTimes,dLineValues,1190.8,.04);
})();

// ---------- panel E / F heatmaps ----------
(function(){
  const top=1012.7,bot=1296.7;
  const rowH=(bot-top)/13;
  const yCell=v=>bot-(v-0.5)*rowH;
  const BG='#000080';
  let g=document.getElementById('eHeat');
  let xf=t=>124+t*13.33;
  heatmap(g,'e-heatmap',eHeatRows,110.3,323.7,top,bot,c=>-1+c*.5,xf,BG,'blurSoft');
  pinkBar(g,'e-heatmap',121,127,top,bot);
  xAxis(g,'e-heatmap',time15Ticks,xf,bot,124,1331);
  yAxis(g,'e-heatmap',cellTicksE,cellTicksE.map(String),yCell,110.3,yCell(12)-10,bot,92);

  g=document.getElementById('tHeat');
  xf=t=>366+t*25;
  heatmap(g,'t-heatmap',tHeatRows,359.3,466,top,bot,c=>-.2+c*.55,xf,'#f0d040','blurSoft');
  pinkBar(g,'t-heatmap',363,369,top,bot);
  xAxis(g,'t-heatmap',trainPulseTicks,xf,bot,366,1331);

  g=document.getElementById('f5Heat');
  xf=t=>619.5+t*2.297;
  // columns after the lead-in alternate a narrow peak with a wider inter-pulse gap (7 s period)
  const f5Edge=c=>{
    if(c<4)return -5.95+3.5*c;
    const k=Math.floor((c-4)/2);
    return (c-4)%2===0?8.5+7*k:11.1+7*k;
  };
  heatmap(g,'f5-heatmap',f5HeatRows,608.5,964,top,bot,f5Edge,xf,BG,'blurX');
  pinkBar(g,'f5-heatmap',617,624,top,bot);
  xAxis(g,'f5-heatmap',time150Ticks,xf,bot,619.5,1331);

  g=document.getElementById('f10Heat');
  xf=t=>1008+t*1.737;
  // columns: lead-in, then narrow peak / shoulder / trough per 12 s period
  const f10Edge=c=>{
    if(c<1)return -2.7;
    const j=c-1,k=Math.floor(j/3),r=j%3;
    return (r===0?1.9:r===1?4.7:9.7)+12*k;
  };
  heatmap(g,'f10-heatmap',f10HeatRows,999.5,1354.8,top,bot,f10Edge,xf,BG,'blurX');
  pinkBar(g,'f10-heatmap',1005,1012,top,bot);
  xAxis(g,'f10-heatmap',time200Ticks,xf,bot,1008,1331);
})();

// ---------- panel E / F z-score lines ----------
(function(){
  const yf=v=>1593.3-v*63.33;
  const axisBottom=1688.3,lab=1721;
  function chart(id,name,times,values,ticks,xZero,scale,axisX,labels,sem,smooth,labelRight){
    const g=document.getElementById(id);
    const xf=t=>xZero+t*scale;
    zLine(g,name,times,values,xf,yf,sem,smooth);
    pinkBar(g,name,xZero-2.6,xZero+3.2,1403.3,1659.3);
    xAxis(g,name,ticks,xf,axisBottom,xZero,lab);
    yAxis(g,name,zTicksEF,labels,yf,axisX,1403.3,axisBottom,labelRight);
  }
  chart('eLine','e-zscore',eLineTimes,eLineValues,time15Ticks,121.7,11.13,110.3,zTickLabelsE,.03,true,92);
  chart('tLine','t-zscore',tLineTimes,tLineValues,trainPulseTicks,330,25.25,324.3,null,.02,true,0);
  chart('f5Line','f5-zscore',f5LineTimes,f5LineValues,time150Ticks,619.6,2.302,608.8,null,.04,true,0);
  chart('f10Line','f10-zscore',f10LineTimes,f10LineValues,time200Ticks,1008.8,1.731,999,null,.04,true,0);
})();
</script>
</body>
</html>
